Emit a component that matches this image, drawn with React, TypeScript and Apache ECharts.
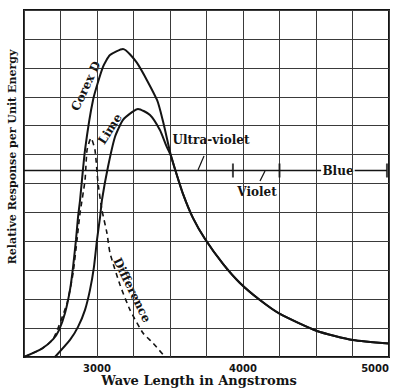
import React, { useEffect, useRef } from "react";
import * as echarts from "echarts";

// Axis ranges (wave length in Å, relative response in arbitrary grid units)
const xMin = 2500;
const xMax = 5000;
const xStep = 250;
const yMin = 0;
const yMax = 12;
const yStep = 1;
const xTickLabels = [3000, 4000, 5000];

// Corex D curve (part before it joins the Lime curve)
const corexHeadX = [2500, 2620, 2700, 2740, 2781, 2815, 2836, 2856, 2870, 2884, 2918, 2973, 3041, 3089, 3178, 3274, 3411, 3452];
const corexHeadY = [0, 0.28, 0.62, 0.93, 1.52, 2.32, 3.11, 4.05, 4.84, 5.43, 7.16, 8.89, 10.03, 10.44, 10.65, 10.17, 8.89, 8.15];

// Lime curve (part before it joins the Corex D curve)
const limeHeadX = [2712, 2815, 2870, 2918, 2952, 2979, 3000, 3021, 3034, 3075, 3123, 3178, 3240, 3281, 3363, 3431, 3475];
const limeHeadY = [0, 0.59, 1.04, 1.63, 2.32, 3.11, 4.05, 4.84, 5.43, 6.57, 7.61, 8.2, 8.47, 8.58, 8.37, 7.85, 7.3];

// Common tail of both curves
const tailX = [3507, 3534, 3589, 3657, 3740, 3863, 3979, 4116, 4253, 4507, 4753, 5000];
const tailY = [6.95, 6.5, 5.64, 4.81, 4.08, 3.22, 2.56, 1.97, 1.49, 0.9, 0.59, 0.47];

// Difference curve (dashed)
const diffX = [2500, 2620, 2700, 2795, 2836, 2863, 2884, 2918, 2932, 2959, 2986, 3007, 3034, 3068, 3089, 3158, 3226, 3315, 3384, 3466];
const diffY = [0, 0.28, 0.62, 1.87, 2.9, 4.05, 4.98, 6.12, 7.16, 7.57, 7.16, 6.02, 5.08, 4.29, 3.6, 2.49, 1.63, 0.83, 0.48, 0];

// Spectrum band marker line
const spectrumLevel = 6.45;
const spectrumBounds = [3931, 4250, 4986]; // UV | Violet | Blue end
const blueLabelGap = [4535, 4765];

const zip = (xs: number[], ys: number[]) => xs.map((x, i) => [x, ys[i]]);

const INK = "#141414";
const SERIF = "DejaVu Serif";

export default function App() {
  const ref = useRef<HTMLDivElement>(null);
  useEffect(() => {
    const chart = echarts.init(ref.current!, null, { renderer: "svg" });
    const corex = zip(corexHeadX, corexHeadY).concat(zip(tailX, tailY));
    const lime = zip(limeHeadX, limeHeadY).concat(zip(tailX, tailY));
    const diff = zip(diffX, diffY);
    const lineStyle = { color: INK, width: 2 };
    const curve = { type: "line", smooth: 0.2, showSymbol: false, z: 5 };
    chart.setOption({
      animation: false,
      backgroundColor: "#ffffff",
      grid: {
        left: 24,
        right: 7,
        top: 10,
        bottom: 33,
        show: true,
        borderColor: INK,
        borderWidth: 2,
        backgroundColor: "transparent",
      },
      xAxis: {
        type: "value",
        min: xMin,
        max: xMax,
        interval: xStep,
        axisLine: { show: false },
        axisTick: { show: false },
        splitLine: { show: true, lineStyle: { color: "#3a3a3a", width: 1 } },
        axisLabel: {
          margin: 6,
          fontFamily: "DejaVu Sans",
          fontWeight: "bold",
          fontSize: 10,
          color: INK,
          alignMaxLabel: "right",
          formatter: (v: number) => (xTickLabels.includes(v) ? String(v) : ""),
        },
      },
      yAxis: {
        type: "value",
        min: yMin,
        max: yMax,
        interval: yStep,
        axisLine: { show: false },
        axisTick: { show: false },
        axisLabel: { show: false },
        splitLine: { show: true, lineStyle: { color: "#3a3a3a", width: 1 } },
      },
      series: [
        { ...curve, name: "Corex D", data: corex, lineStyle },
        { ...curve, name: "Lime", data: lime, lineStyle },
        {
          ...curve,
          name: "Difference",
          data: diff,
          lineStyle: { color: INK, width: 1.6, type: [5, 4] },
        },
        {
          name: "spectrum-left",
          type: "line",
          data: [
            [xMin, spectrumLevel],
            [blueLabelGap[0], spectrumLevel],
          ],
          showSymbol: false,
          lineStyle: { color: INK, width: 1.3 },
          z: 4,
        },
        {
          name: "spectrum-right",
          type: "line",
          data: [
            [blueLabelGap[1], spectrumLevel],
            [spectrumBounds[2], spectrumLevel],
          ],
          showSymbol: false,
          lineStyle: { color: INK, width: 1.3 },
          z: 4,
        },
        {
          name: "spectrum-ticks",
          type: "scatter",
          data: spectrumBounds.map((b) => [b, spectrumLevel]),
          symbol: "rect",
          symbolSize: [2, 14],
          itemStyle: { color: INK },
          z: 4,
        },
      ],
      graphic: [
        {
          type: "text",
          x: 199,
          y: 380,
          style: { text: "Wave Length in Angstroms", font: `bold 13px "${SERIF}"`, fill: INK, align: "center", verticalAlign: "middle" },
        },
        {
          type: "text",
          x: 12,
          y: 157,
          rotation: Math.PI / 2,
          style: { text: "Relative Response per Unit Energy", font: `bold 11px "${SERIF}"`, fill: INK, align: "center", verticalAlign: "middle" },
        },
        {
          type: "text",
          x: 86,
          y: 86,
          rotation: (65 * Math.PI) / 180,
          style: { text: "Corex D", font: `bold 12px "${SERIF}"`, fill: INK, align: "center", verticalAlign: "middle" },
        },
        {
          type: "text",
          x: 110,
          y: 129,
          rotation: (57 * Math.PI) / 180,
          style: { text: "Lime", font: `bold 12px "${SERIF}"`, fill: INK, align: "center", verticalAlign: "middle" },
        },
        {
          type: "text",
          x: 132,
          y: 290,
          rotation: (-64 * Math.PI) / 180,
          style: { text: "Difference", font: `bold 12px "${SERIF}"`, fill: INK, align: "center", verticalAlign: "middle" },
        },
        {
          type: "text",
          x: 211,
          y: 140,
          style: { text: "Ultra-violet", font: `bold 12px "${SERIF}"`, fill: INK, align: "center", verticalAlign: "middle" },
        },
        {
          type: "text",
          x: 257,
          y: 192,
          style: { text: "Violet", font: `bold 12px "${SERIF}"`, fill: INK, align: "center", verticalAlign: "middle" },
        },
        {
          type: "text",
          x: 338,
          y: 171,
          style: { text: "Blue", font: `bold 12px "${SERIF}"`, fill: INK, align: "center", verticalAlign: "middle" },
        },
        {
          type: "line",
          shape: { x1: 204, y1: 156, x2: 198, y2: 170 },
          style: { stroke: INK, lineWidth: 1.2 },
        },
        {
          type: "line",
          shape: { x1: 260, y1: 181, x2: 265, y2: 171 },
          style: { stroke: INK, lineWidth: 1.2 },
        },
      ],
    });
    return () => chart.dispose();
  }, []);
  return <div ref={ref} style={{ position: "absolute", left: 0, top: 0, width: 396, height: 390 }} />;
}
